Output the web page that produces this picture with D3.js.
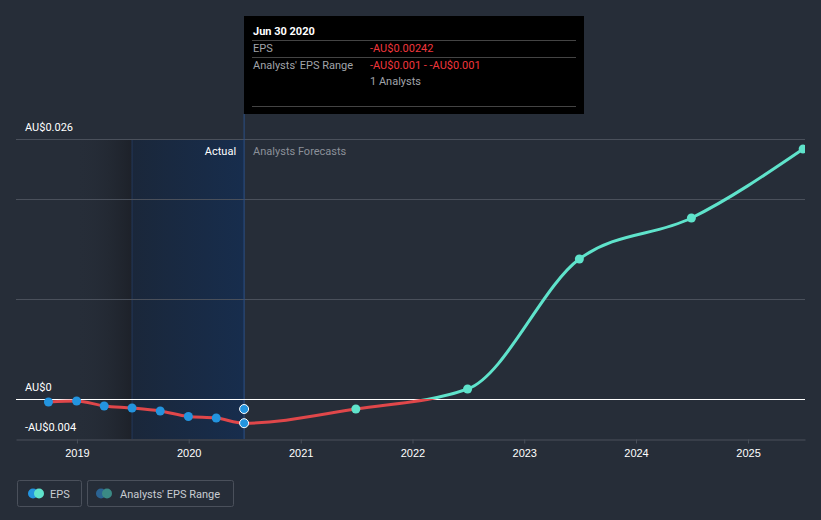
<!DOCTYPE html>
<html><head><meta charset="utf-8">
<script src="https://cdn.jsdelivr.net/npm/d3@7"></script>
<style>
html,body{margin:0;padding:0;background:#262d38;}
svg{display:block;font-family:Roboto,"Noto Sans",sans-serif;}
</style></head><body>
<svg id="c" width="821" height="520"></svg>
<script>
// ---- data ----
const actualDates = ["2018-09-30","2018-12-31","2019-03-31","2019-06-30","2019-09-30","2019-12-31","2020-03-31","2020-06-30"];
const actualEPS   = [-0.0003,-0.0002,-0.0007,-0.0009,-0.0012,-0.00175,-0.0019,-0.00242];
const forecastDates = ["2020-06-30","2021-06-30","2022-06-30","2023-06-30","2024-06-30","2025-06-30"];
const forecastEPS   = [-0.00242,-0.001,0.001,0.014,0.0181,0.025];
const rangeDate = "2020-06-30";
const rangeLow = -0.001, rangeHigh = -0.001;
const yTicks = [-0.004, 0, 0.026];
const yTickLabels = ["-AU$0.004","AU$0","AU$0.026"];
const gridValues = [0.01, 0.02, 0.026];
const xTickYears = [2019,2020,2021,2022,2023,2024,2025];

const parse = d3.timeParse("%Y-%m-%d");
const svg = d3.select("#c");
const x = d3.scaleTime().domain([parse("2018-06-16"), parse("2025-07-06")]).range([16, 805]);
const y = d3.scaleLinear().domain([-0.004, 0.026]).range([439, 139]);

const defs = svg.append("defs");
const g1 = defs.append("linearGradient").attr("id","pastGrad");
g1.append("stop").attr("offset","0").attr("stop-color","#262d38").attr("stop-opacity",0);
g1.append("stop").attr("offset","1").attr("stop-color","#1d2129").attr("stop-opacity",1);
const g2 = defs.append("linearGradient").attr("id","actGrad");
g2.append("stop").attr("offset","0").attr("stop-color","#1a273a");
g2.append("stop").attr("offset","1").attr("stop-color","#172d4d");
defs.append("clipPath").attr("id","plot").append("rect").attr("x",0).attr("y",0).attr("width",805).attr("height",520);

const xPastStart = x(parse("2018-06-16")), xShade = x(parse("2019-06-30")), xNow = x(parse("2020-06-30"));
svg.append("rect").attr("x",xPastStart+60).attr("y",139).attr("width",xShade-xPastStart-60).attr("height",300).attr("fill","url(#pastGrad)");
svg.append("rect").attr("x",xShade).attr("y",139).attr("width",xNow-xShade).attr("height",300).attr("fill","url(#actGrad)");
svg.append("line").attr("x1",xShade).attr("x2",xShade).attr("y1",139).attr("y2",439).attr("stroke","#22385a").attr("stroke-width",1);

// grid
svg.selectAll(".grid").data(gridValues).enter().append("line")
  .attr("x1",16).attr("x2",805).attr("y1",d=>Math.round(y(d))+0.5).attr("y2",d=>Math.round(y(d))+0.5)
  .attr("stroke","#4a505b").attr("stroke-width",1);

// now line
svg.append("line").attr("x1",xNow).attr("x2",xNow).attr("y1",114).attr("y2",439).attr("stroke","#2a4f86").attr("stroke-width",1);

// x axis
const xAxis = d3.axisBottom(x).tickValues(xTickYears.map(yr=>new Date(yr,0,1))).tickFormat(d3.timeFormat("%Y")).tickSize(4).tickSizeOuter(0);
const ax = svg.append("g").attr("transform","translate(0,439.5)").call(xAxis);
ax.select(".domain").attr("stroke","#4a505b");
ax.selectAll(".tick line").attr("stroke","#4a505b");
ax.selectAll(".tick text").attr("fill","#ffffff").attr("font-size","11px").attr("dy","0.95em");

// y labels
svg.selectAll(".ylab").data(yTicks).enter().append("text")
  .attr("x",25).attr("y",d=> y(d)-8)
  .attr("fill","#ffffff").attr("font-size","11px").text((d,i)=>yTickLabels[i]);

// zero line
svg.append("line").attr("x1",16).attr("x2",805).attr("y1",Math.round(y(0))+0.5).attr("y2",Math.round(y(0))+0.5).attr("stroke","#ffffff").attr("stroke-width",1.2);

// region labels
svg.append("text").attr("x",xNow-8).attr("y",155).attr("text-anchor","end").attr("fill","#ffffff").attr("font-size","11px").text("Actual");
svg.append("text").attr("x",xNow+9).attr("y",155).attr("fill","#8b9099").attr("font-size","11px").text("Analysts Forecasts");

// line
const pts = actualDates.map((d,i)=>({d:parse(d),v:actualEPS[i]}))
  .concat(forecastDates.slice(1).map((d,i)=>({d:parse(d),v:forecastEPS[i+1]})));
const line = d3.line().x(p=>x(p.d)).y(p=>y(p.v)).curve(d3.curveMonotoneX);
defs.append("clipPath").attr("id","neg").append("rect").attr("x",0).attr("y",y(0)).attr("width",805).attr("height",200);
defs.append("clipPath").attr("id","pos").append("rect").attr("x",0).attr("y",0).attr("width",805).attr("height",y(0));
svg.append("path").datum(pts).attr("d",line).attr("fill","none").attr("stroke","#e0474a").attr("stroke-width",3).attr("clip-path","url(#neg)");
svg.append("path").datum(pts).attr("d",line).attr("fill","none").attr("stroke","#5fe3cb").attr("stroke-width",3).attr("clip-path","url(#pos)");

const pg = svg.append("g").attr("clip-path","url(#plot)");
// actual points
pg.selectAll(".ap").data(actualDates.slice(0,-1)).enter().append("circle")
  .attr("cx",d=>x(parse(d))).attr("cy",(d,i)=>y(actualEPS[i])).attr("r",4.5).attr("fill","#2394df");
pg.append("circle").attr("cx",xNow).attr("cy",y(actualEPS[actualEPS.length-1])).attr("r",4.5).attr("fill","#2394df").attr("stroke","#ffffff").attr("stroke-width",1);
pg.append("circle").attr("cx",x(parse(rangeDate))).attr("cy",y(rangeHigh)).attr("r",4.5).attr("fill","#2394df").attr("stroke","#ffffff").attr("stroke-width",1);

// forecast points
pg.selectAll(".fp").data(forecastDates.slice(1)).enter().append("circle")
  .attr("cx",d=>x(parse(d))).attr("cy",(d,i)=>y(forecastEPS[i+1])).attr("r",4.5).attr("fill","#5fe3cb");

// tooltip
const tt = svg.append("g");
tt.append("rect").attr("x",244).attr("y",16).attr("width",340).attr("height",98).attr("fill","#000000");
tt.append("text").attr("x",253).attr("y",35).attr("fill","#ffffff").attr("font-size","11px").attr("font-weight","bold").text("Jun 30 2020");
[40.5,57.5,106.5].forEach(yy=>tt.append("line").attr("x1",252).attr("x2",576).attr("y1",yy).attr("y2",yy).attr("stroke","#444444"));
tt.append("text").attr("x",253).attr("y",52).attr("fill","#a0a4aa").attr("font-size","11px").text("EPS");
tt.append("text").attr("x",370).attr("y",52).attr("fill","#f0363c").attr("font-size","11px").text("-AU$0.00242");
tt.append("text").attr("x",253).attr("y",69).attr("fill","#a0a4aa").attr("font-size","11px").text("Analysts' EPS Range");
tt.append("text").attr("x",370).attr("y",69).attr("fill","#f0363c").attr("font-size","11px").text("-AU$0.001 - -AU$0.001");
tt.append("text").attr("x",370).attr("y",85).attr("fill","#a0a4aa").attr("font-size","11px").text("1 Analysts");

// legend
const lg = svg.append("g");
lg.append("rect").attr("x",17.5).attr("y",480.5).attr("width",64).attr("height",26).attr("rx",2).attr("fill","none").attr("stroke","#4a505b");
lg.append("circle").attr("cx",33).attr("cy",493.5).attr("r",5).attr("fill","#2394df");
lg.append("circle").attr("cx",39).attr("cy",493.5).attr("r",5).attr("fill","#5fe3cb");
lg.append("text").attr("x",50).attr("y",497.5).attr("fill","#c8ccd2").attr("font-size","11px").text("EPS");
lg.append("rect").attr("x",87.5).attr("y",480.5).attr("width",146).attr("height",26).attr("rx",2).attr("fill","none").attr("stroke","#4a505b");
lg.append("circle").attr("cx",101).attr("cy",493.5).attr("r",5).attr("fill","#2b6392");
lg.append("circle").attr("cx",107).attr("cy",493.5).attr("r",5).attr("fill","#3b8a85");
lg.append("text").attr("x",120).attr("y",497.5).attr("fill","#c8ccd2").attr("font-size","11px").text("Analysts' EPS Range");
</script></body></html>
